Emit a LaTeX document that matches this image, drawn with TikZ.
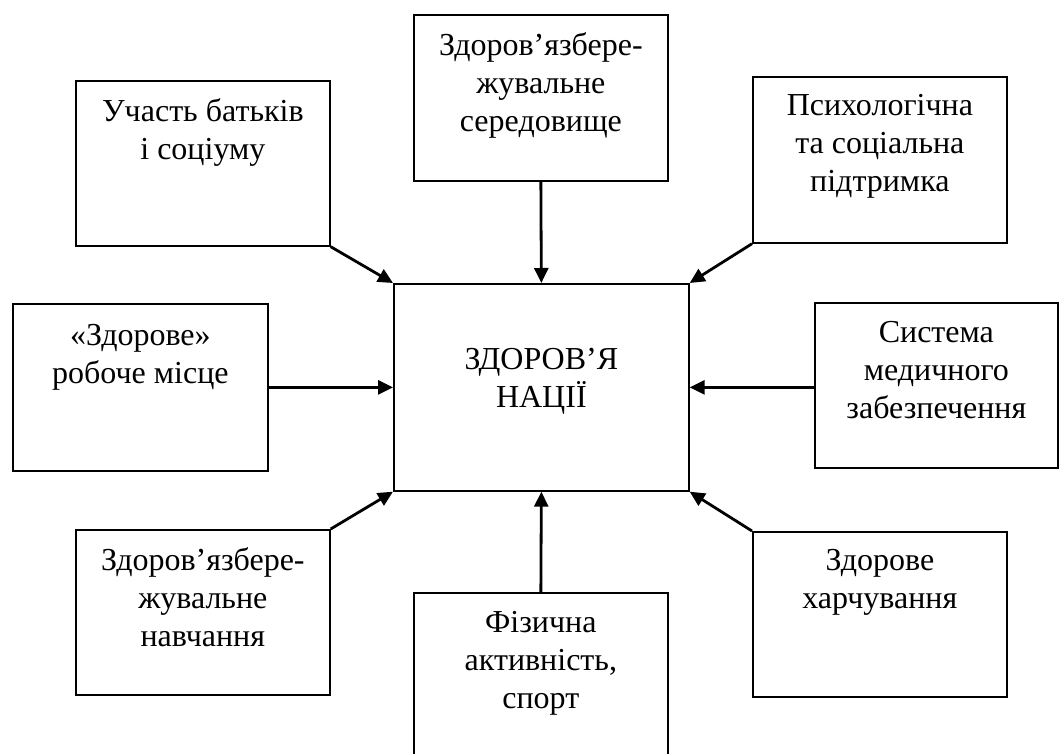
\documentclass[tikz,border=0pt]{standalone}
\usepackage{fontspec}
\setmainfont{Liberation Serif}
\usepackage{tikz}
\usetikzlibrary{arrows.meta,positioning,calc}
\definecolor{ink}{HTML}{000000}

\begin{document}
\begin{tikzpicture}[x=1pt, y=-1pt,
  every node/.style={font=\fontsize{32}{38}\selectfont, text=ink},
  factor/.style={rectangle, draw=ink, line width=1.7pt, anchor=north west, minimum width=254pt, minimum height=165pt, inner sep=0pt},
  caption/.style={align=center, inner sep=0pt},
  arrow/.style={-{Triangle[length=15pt, width=14pt]}, line width=2.8pt, draw=ink}
]
\useasboundingbox (0,0) rectangle (1059,754);
\clip (0,0) rectangle (1059,754);

% boxes
\node[factor, minimum width=295pt, minimum height=207pt] (nation) at (393,283) {};
\node[factor]                                            (parents)   at (75,80) {};
\node[factor, minimum height=166pt]                      (milieu)    at (413,14) {};
\node[factor, minimum height=166pt]                      (support)   at (752,76) {};
\node[factor, minimum width=255pt, minimum height=167pt] (workplace) at (12,303) {};
\node[factor, minimum width=243pt]                       (medicine)  at (814,302) {};
\node[factor]                                            (learning)  at (75,529) {};
\node[factor, minimum height=200pt]                      (sport)     at (413,592) {};
\node[factor]                                            (food)      at (752,531) {};

% texts
\node[caption, below=65pt of nation.north]    (nationT)    {ЗДОРОВ’Я\\НАЦІЇ};
\node[caption, below=18pt of parents.north]   (parentsT)   {Участь батьків\\і соціуму};
\node[caption, below=18pt of milieu.north]    (milieuT)    {Здоров’язбере-\\жувальне\\середовище};
\node[caption, below=18pt of support.north]   (supportT)   {Психологічна\\та соціальна\\підтримка};
\node[caption, below=21pt of workplace.north] (workplaceT) {«Здорове»\\робоче місце};
\node[caption, below=19pt of medicine.north]  (medicineT)  {Система\\медичного\\забезпечення};
\node[caption, below=18pt of learning.north]  (learningT)  {Здоров’язбере-\\жувальне\\навчання};
\node[caption, below=19pt of sport.north]     (sportT)     {Фізична\\активність,\\спорт};
\node[caption, below=18pt of food.north]      (foodT)      {Здорове\\харчування};

% arrows into the centre
\draw[arrow] (parents.south east) -- (nation.north west);
\draw[arrow] (milieu.south)       -- (nation.north);
\draw[arrow] (support.south west) -- (nation.north east);
\draw[arrow] (workplace.east)     -- (nation.west);
\draw[arrow] (nation.east -| medicine.west) -- (nation.east);
\draw[arrow] (learning.north east) -- (nation.south west);
\draw[arrow] (sport.north)        -- (nation.south);
\draw[arrow] (food.north west)    -- (nation.south east);
\end{tikzpicture}
\end{document}
